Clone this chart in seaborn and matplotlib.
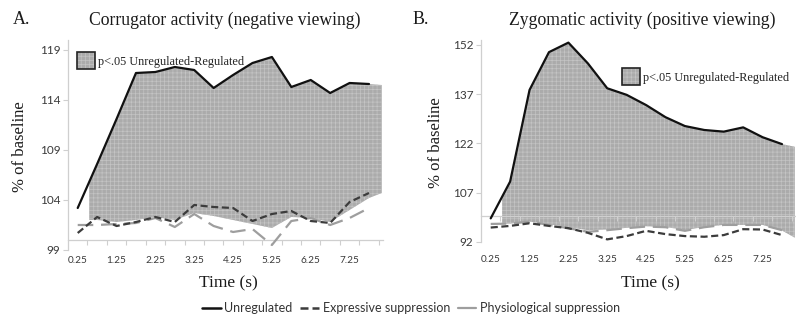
import numpy as np
import pandas as pd
import matplotlib
matplotlib.use("Agg")
import matplotlib.pyplot as plt
from matplotlib.lines import Line2D
from matplotlib.patches import Rectangle
import seaborn as sns

# ---------------- data ----------------
time = [0.25, 0.75, 1.25, 1.75, 2.25, 2.75, 3.25, 3.75,
        4.25, 4.75, 5.25, 5.75, 6.25, 6.75, 7.25, 7.75]
tick_labels = ["0.25", "1.25", "2.25", "3.25", "4.25", "5.25", "6.25", "7.25"]

# Panel A: corrugator (negative viewing)
unreg_A = [103.2, 107.6, 112.1, 116.7, 116.8, 117.3, 117.0, 115.2,
           116.5, 117.7, 118.3, 115.3, 116.0, 114.7, 115.7, 115.6]
expr_A = [100.7, 102.3, 101.4, 101.8, 102.3, 101.8, 103.5, 103.3,
          103.2, 101.9, 102.6, 102.9, 101.9, 101.7, 103.8, 104.7]
phys_A = [101.5, 101.5, 101.6, 101.7, 102.2, 101.3, 102.6, 101.4,
          100.8, 101.1, 99.5, 101.9, 102.2, 101.5, 102.2, 103.2]
sig_low_A = [102.0, 102.0, 101.8, 102.0, 102.3, 102.0, 102.7, 102.4,
             102.0, 101.6, 101.2, 102.3, 102.2, 101.8, 103.0, 104.2]
sig_end_A = (115.5, 104.7)   # (top, bottom) where the significance band ends
yticks_A = [99, 104, 109, 114, 119]

# Panel B: zygomatic (positive viewing)
unreg_B = [99.2, 110.4, 138.3, 149.8, 152.7, 146.4, 138.8, 136.8,
           133.7, 130.0, 127.3, 126.1, 125.6, 126.9, 123.9, 121.8]
expr_B = [96.4, 96.9, 97.7, 96.9, 96.2, 94.8, 92.8, 93.8,
          95.4, 94.4, 93.8, 93.6, 94.1, 95.9, 95.8, 94.1]
phys_B = [97.5, 97.6, 98.2, 97.2, 96.2, 95.1, 95.6, 96.2,
          96.7, 96.5, 95.4, 96.5, 97.2, 97.2, 97.2, 95.6]
sig_low_B = [97.5, 97.6, 98.2, 97.4, 96.5, 95.6, 95.8, 96.3,
             96.8, 96.6, 95.6, 96.6, 97.2, 97.2, 97.2, 95.5]
sig_end_B = (121.0, 93.3)
yticks_B = [92, 107, 122, 137, 152]

titles = ["Corrugator activity (negative viewing)", "Zygomatic activity (positive viewing)"]
letters = ["A.", "B."]
series_names = ["Unregulated", "Expressive suppression", "Physiological suppression"]
sig_label = "p<.05 Unregulated-Regulated"

# ---------------- style ----------------
sns.set_theme(style="white")
SERIF = ["Liberation Serif", "DejaVu Serif"]
SANS = ["Lato", "DejaVu Sans"]
plt.rcParams["font.family"] = SANS
plt.rcParams["hatch.linewidth"] = 0.5

W, H = 796, 322
fig = plt.figure(figsize=(W / 100, H / 100), dpi=100)

SHADE_FACE = "#ababab"
SHADE_HATCH = "#c4c4c4"
AXIS_GREY = "#cfcfcf"
C_UNREG = "#111111"
C_EXPR = "#3c3c3c"
C_PHYS = "#9e9e9e"

def px(x, y):
    return x / W, 1 - y / H

def panel(rect_px, ylo, yhi, yticks, unreg, expr, phys, low, end, lbl_pad, legend_px):
    l, t, r, b = rect_px
    ax = fig.add_axes([l / W, 1 - b / H, (r - l) / W, (b - t) / H])
    ax.set_xlim(0, 8.1)
    ax.set_ylim(ylo, yhi)

    # significance band (stacked-area look)
    start_off, end_off = 0.3, 0.33
    xf = list(time) + [time[-1] + end_off]
    top = list(unreg) + [end[0]]
    bot = list(low) + [end[1]]
    band = ax.fill_between(xf, bot, top, facecolor=SHADE_FACE, edgecolor=SHADE_HATCH,
                           hatch="++++", linewidth=0, zorder=1)
    clip = Rectangle((time[0] + start_off, ylo - 50), 20, (yhi - ylo) + 100,
                     transform=ax.transData, visible=False)
    ax.add_patch(clip)
    band.set_clip_path(clip)

    df = pd.DataFrame({"time": time, "unreg": unreg, "expr": expr, "phys": phys})
    sns.lineplot(data=df, x="time", y="phys", ax=ax, color=C_PHYS, linewidth=1.6,
                 zorder=3)
    ax.lines[-1].set_dashes([7, 3.5])
    sns.lineplot(data=df, x="time", y="expr", ax=ax, color=C_EXPR, linewidth=1.6,
                 zorder=4)
    ax.lines[-1].set_dashes([3.2, 1.6])
    sns.lineplot(data=df, x="time", y="unreg", ax=ax, color=C_UNREG, linewidth=1.6,
                 zorder=5)

    for s in ["top", "right", "bottom"]:
        ax.spines[s].set_visible(False)
    ax.spines["left"].set_color(AXIS_GREY)
    ax.spines["left"].set_linewidth(0.9)
    ax.set_yticks(yticks)
    ax.set_yticklabels([str(v) for v in yticks])
    ax.tick_params(axis="y", left=True, length=3.5, width=0.8, color=AXIS_GREY,
                   labelsize=8.5, labelcolor="#3a3a3a", pad=2)
    ax.set_xticks(time[::2])
    ax.set_xticklabels(tick_labels)
    ax.tick_params(axis="x", bottom=False, length=0, labelsize=7.2,
                   labelcolor="#3a3a3a", pad=lbl_pad)
    ax.set_xlabel("")
    ax.set_ylabel("")

    # horizontal axis crossing at 100 with category tick marks
    sec = ax.secondary_xaxis((100 - ylo) / (yhi - ylo))
    sec.set_xticks(np.arange(0.5, 8.01, 0.5))
    sec.tick_params(axis="x", bottom=True, direction="out", length=3.5, width=0.8,
                    color=AXIS_GREY, labelbottom=False)
    sec.spines["bottom"].set_color(AXIS_GREY)
    sec.spines["bottom"].set_linewidth(0.9)
    sec.set_zorder(2)

    # in-panel legend for the significance band
    sx, sy = legend_px
    bw, bh = 18, 17
    x0, y0 = px(sx, sy + bh)
    sw = Rectangle((x0, y0), bw / W, bh / H, transform=fig.transFigure,
                   facecolor=SHADE_FACE, edgecolor=SHADE_HATCH, hatch="++++",
                   linewidth=0)
    fig.add_artist(sw)
    fig.add_artist(Rectangle((x0, y0), bw / W, bh / H, transform=fig.transFigure,
                             facecolor="none", edgecolor="#222222", linewidth=1.2))
    tx, ty = px(sx + bw + 3, sy + bh / 2 + 1)
    fig.text(tx, ty, sig_label, family=SERIF, fontsize=8.8, color="#222222",
             ha="left", va="center")
    return ax

axA = panel((68, 40, 382.6, 250), 99, 120, yticks_A, unreg_A, expr_A, phys_A,
            sig_low_A, sig_end_A, 4.5, (77, 52))
axB = panel((481, 40, 795.6, 242), 92, 153.5, yticks_B, unreg_B, expr_B, phys_B,
            sig_low_B, sig_end_B, 9.5, (622, 68))

# titles, letters, axis labels
for (lx, cx), letter, title in zip([(13, 225), (413, 642)], letters, titles):
    fig.text(*px(lx, 20), letter, family=SERIF, fontsize=13, color="#1a1a1a",
             ha="left", va="center")
    fig.text(*px(cx, 20), title, family=SERIF, fontsize=12.7, color="#1a1a1a",
             ha="center", va="center")
for (yx, yy) in [(20, 147), (436, 143)]:
    fig.text(*px(yx, yy), "% of baseline", family=SERIF, fontsize=12, color="#1a1a1a",
             rotation=90, ha="center", va="center")
for xx in [228, 650]:
    fig.text(*px(xx, 283), "Time (s)", family=SERIF, fontsize=12.5, color="#1a1a1a",
             ha="center", va="center")

# bottom legend
handles = [
    Line2D([], [], color=C_UNREG, linewidth=1.8),
    Line2D([], [], color=C_EXPR, linewidth=1.8, dashes=[3.2, 1.6]),
    Line2D([], [], color=C_PHYS, linewidth=1.6),
]
fig.legend(handles, series_names, loc="center", bbox_to_anchor=px(411, 308),
           ncol=3, frameon=False, fontsize=9, handlelength=1.5, handletextpad=0.3,
           columnspacing=0.6, labelcolor="#333333")

fig.savefig("out.png", dpi=100)
